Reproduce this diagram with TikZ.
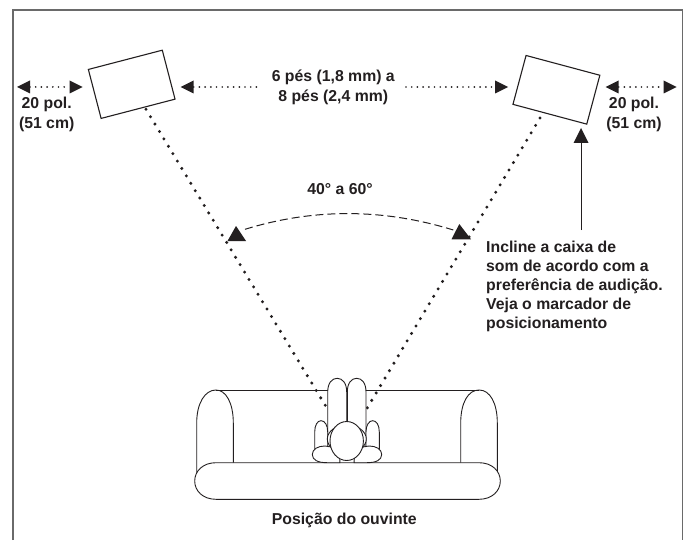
\documentclass[tikz,border=0pt]{standalone}
\usepackage{fontspec}
\setmainfont{Liberation Sans}
\usetikzlibrary{arrows.meta}
\definecolor{ink}{HTML}{231F20}
\definecolor{framegray}{HTML}{6A6A6A}
\tikzset{
  x=1pt,y=-1pt,
  every node/.style={text=ink},
  lbl/.style={font=\fontsize{15.8}{20}\selectfont\bfseries,align=center,inner sep=0pt},
  notelbl/.style={font=\fontsize{15.8}{19}\selectfont\bfseries,align=left,inner sep=0pt,anchor=north west},
  speaker/.style={draw=ink,line width=1.1pt,minimum width=76.4pt,minimum height=50.6pt,inner sep=0pt,fill=white},
  bigdots/.style={draw=ink,line width=3.3pt,line cap=round,dash pattern=on 0pt off 8.65pt},
  smalldots/.style={draw=ink,line width=1.9pt,line cap=round,dash pattern=on 0pt off 5.7pt},
  solid part/.style={draw=ink,line width=0.9pt,fill=white},
}
\begin{document}
\begin{tikzpicture}
\useasboundingbox (0,0) rectangle (687,540);
\fill[white] (0,0) rectangle (687,540);
% frame
\draw[framegray,line width=1.3pt] (13,540) -- (13,10) -- (682.7,10) -- (682.7,540);
% speakers
\node[speaker,rotate=14.6] (spkL) at (131.7,84.3) {};
\node[speaker,rotate=-15] (spkR) at (556.4,89.8) {};
% named ends
\coordinate (dL) at (146,109.3);
\coordinate (dR) at (540,118);
\coordinate (earL) at (326.7,407.7);
\coordinate (earR) at (366,410);
\draw[bigdots] (dL) -- (earL);
\draw[bigdots] (dR) -- (earR);
% dimension arrows
\coordinate (a1) at (14,87); \coordinate (a2) at (85.7,87);
\coordinate (b1) at (177.7,87); \coordinate (b2) at (260,87);
\coordinate (c1) at (406,87); \coordinate (c2) at (511,87);
\coordinate (e1) at (602.7,87); \coordinate (e2) at (679.7,87);
\draw[smalldots,{Triangle[length=13pt,width=13pt,sep=3pt,line width=0pt]}-{Triangle[length=13pt,width=13pt,sep=3pt,line width=0pt]}] (a1) -- (a2);
\draw[smalldots,{Triangle[length=13pt,width=13pt,sep=3pt,line width=0pt]}-] (b1) -- (b2);
\draw[smalldots,-{Triangle[length=13pt,width=13pt,sep=3pt,line width=0pt]}] (c1) -- (c2);
\draw[smalldots,{Triangle[length=13pt,width=13pt,sep=3pt,line width=0pt]}-{Triangle[length=13pt,width=13pt,sep=3pt,line width=0pt]}] (e1) -- (e2);
% angle arc
\coordinate (arcL) at (245,229.3);
\coordinate (arcR) at (453.3,230);
\draw[ink,line width=1pt,dash pattern=on 8pt off 4pt] (arcL) .. controls (314.3,208) and (383.8,208.5) .. (arcR);
\fill[ink] (236,226) -- (246,241) -- (227.5,241) -- cycle;
\fill[ink] (459.3,224) -- (471,239.3) -- (451.5,239.3) -- cycle;
% note arrow
\coordinate (noteTop) at (581,128);
\coordinate (noteBot) at (581,230);
\draw[ink,line width=0.8pt,-{Triangle[length=15pt,width=15pt,line width=0pt]}] (noteBot) -- (noteTop);
% labels
\node[lbl] (l1) at (46.7,114) {20 pol.\\(51 cm)};
\node[lbl] (l2) at (634,114) {20 pol.\\(51 cm)};
\node[lbl] (l3) at (333.3,87.2) {6 pés (1,8 mm) a\\8 pés (2,4 mm)};
\node[lbl] (l4) at (340,189) {40° a 60°};
\node[notelbl] (l5) at (486,240.5) {Incline a caixa de\\som de acordo com a\\preferência de audição.\\Veja o marcador de\\posicionamento};
\node[lbl] (l6) at (344.3,520) {Posição do ouvinte};
% sofa
\draw[ink,line width=0.9pt] (196.7,475) -- (196.7,423) .. controls (196.7,403) and (205,390) .. (216,390)
   .. controls (226,390) and (233.3,403) .. (233.3,423) -- (233.3,463);
\draw[ink,line width=0.9pt] (216,390) -- (479,390);
\draw[ink,line width=0.9pt] (497.3,475) -- (497.3,423) .. controls (497.3,403) and (490,390) .. (479,390)
   .. controls (468,390) and (460.7,403) .. (460.7,423) -- (460.7,463);
\draw[solid part] (216,462.7) -- (479,462.7) .. controls (492,462.7) and (500.3,471) .. (500.3,481)
   .. controls (500.3,491) and (492,499.3) .. (479,499.3) -- (216,499.3)
   .. controls (203,499.3) and (194.7,491) .. (194.7,481) .. controls (194.7,471) and (203,462.7) .. (216,462.7) -- cycle;
% listener
\draw[solid part] (327.7,447) -- (327.7,392) .. controls (327.7,383) and (332,378.3) .. (337.2,378.3)
   .. controls (342.4,378.3) and (346.7,383) .. (346.7,392) -- (346.7,447) -- cycle;
\draw[solid part] (347.3,447) -- (347.3,392) .. controls (347.3,383) and (351.5,378.3) .. (356.7,378.3)
   .. controls (361.9,378.3) and (366,383) .. (366,392) -- (366,447) -- cycle;
\draw[solid part] (314.7,450) -- (314.7,432) .. controls (314.7,425) and (317.5,420.7) .. (321,420.7)
   .. controls (324.8,420.7) and (327.7,425) .. (327.7,432) -- (327.7,450);
\draw[solid part] (366,450) -- (366,432) .. controls (366,425) and (369,420.7) .. (372.7,420.7)
   .. controls (376.5,420.7) and (379.3,425) .. (379.3,432) -- (379.3,450);
\draw[solid part] (312.3,454.5) .. controls (312.3,449) and (318,446) .. (325,446)
   .. controls (332,446) and (340,450) .. (340,462.7) -- (327,462.7) .. controls (318,462.7) and (312.3,460) .. (312.3,454.5) -- cycle;
\draw[solid part] (381.7,454.5) .. controls (381.7,449) and (376,446) .. (369,446)
   .. controls (362,446) and (354,450) .. (354,462.7) -- (367,462.7) .. controls (376,462.7) and (381.7,460) .. (381.7,454.5) -- cycle;
\draw[solid part] (346.8,439) ellipse [x radius=19.5,y radius=14];
\draw[solid part] (346.7,441) ellipse [x radius=16.7,y radius=19.5];
\end{tikzpicture}
\end{document}
